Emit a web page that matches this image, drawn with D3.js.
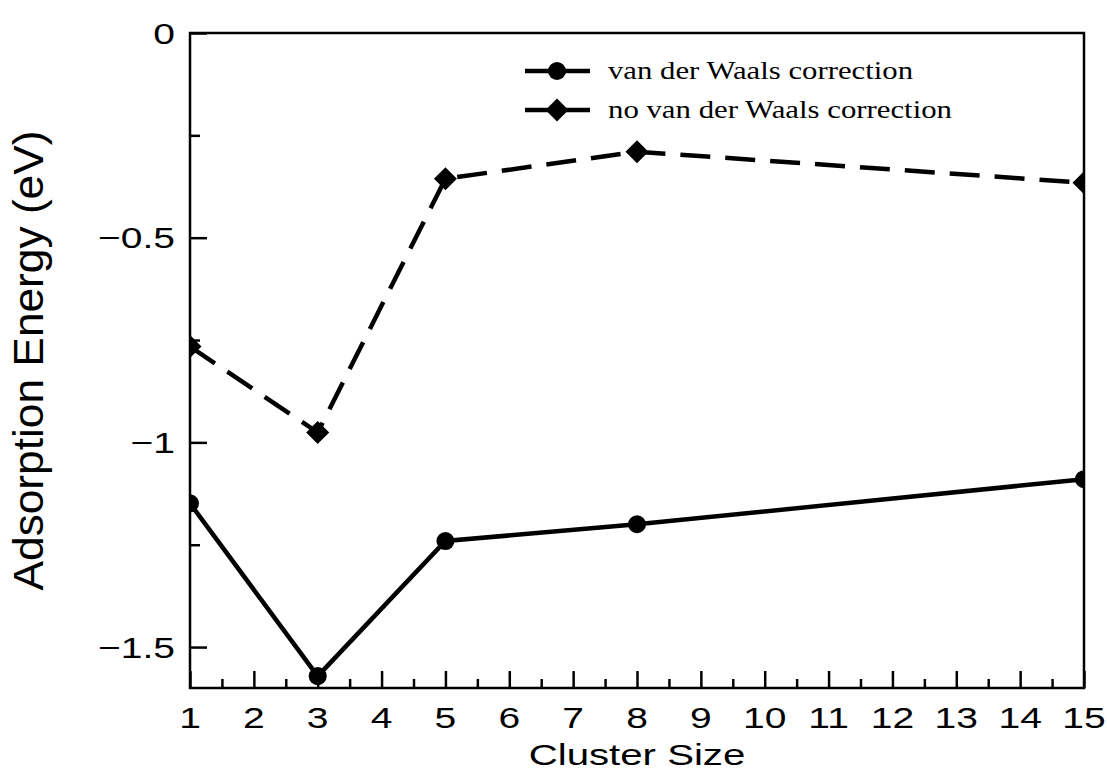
<!DOCTYPE html>
<html>
<head>
<meta charset="utf-8">
<script src="https://cdn.jsdelivr.net/npm/d3@7"></script>
<style>
  body { margin: 0; background: #fff; }
  #app { width: 1107px; height: 775px; }
</style>
</head>
<body>
<div id="app"></div>
<script>
// Cluster sizes and adsorption energies (eV)
const clusterSizes = [1, 3, 5, 8, 15];
const vdwEnergy = [-1.149, -1.571, -1.241, -1.200, -1.090];
const noVdwEnergy = [-0.766, -0.976, -0.356, -0.290, -0.366];
const seriesNames = ["van der Waals correction", "no van der Waals correction"];
const yTicks = [0, -0.5, -1, -1.5];
const yMinorTicks = [-0.25, -0.75, -1.25];
const xTicks = d3.range(1, 16);
const xMinorTicks = d3.range(1.5, 15, 1);

function drawPlot(targetDiv) {
  const width = 1107, height = 775;
  const margin = {top: 33, bottom: 87, left: 190, right: 23};

  const svg = d3.select(targetDiv).append("svg")
    .attr("width", width)
    .attr("height", height);

  const x = d3.scaleLinear().domain([1, 15]).range([margin.left, width - margin.right]);
  const y = d3.scaleLinear().domain([-1.6, 0]).range([height - margin.bottom, margin.top]);

  const sans = "'Liberation Sans', Arial, Helvetica, sans-serif";
  const serif = "'Liberation Serif', 'Times New Roman', serif";
  const stretch = 1.3; // the original lettering is wide

  // clip so markers sitting on the frame get cut
  svg.append("clipPath").attr("id", "plotClip")
    .append("rect")
    .attr("x", x(1)).attr("y", y(0))
    .attr("width", x(15) - x(1)).attr("height", y(-1.6) - y(0));

  const diamond = {
    draw(ctx, size) {
      const r = Math.sqrt(size / 2);
      ctx.moveTo(0, -r); ctx.lineTo(r, 0); ctx.lineTo(0, r); ctx.lineTo(-r, 0); ctx.closePath();
    }
  };

  const series = [
    {name: seriesNames[0], values: vdwEnergy, dash: null, shape: d3.symbolCircle, size: 255, len: 305},
    {name: seriesNames[1], values: noVdwEnergy, dash: "30,15", shape: diamond, size: 265, len: 344}
  ];

  const line = d3.line().x(d => x(d[0])).y(d => y(d[1]));
  const plot = svg.append("g").attr("clip-path", "url(#plotClip)");

  series.forEach(s => {
    const pts = clusterSizes.map((c, i) => [c, s.values[i]]);
    plot.append("path")
      .datum(pts)
      .attr("d", line)
      .attr("fill", "none")
      .attr("stroke", "#000")
      .attr("stroke-width", 4.5)
      .attr("stroke-dasharray", s.dash);
    plot.selectAll(null)
      .data(pts)
      .join("path")
      .attr("transform", d => `translate(${x(d[0])},${y(d[1])})`)
      .attr("d", d3.symbol(s.shape, s.size))
      .attr("fill", "#000");
  });

  // Frame
  svg.append("rect")
    .attr("x", x(1)).attr("y", y(0))
    .attr("width", x(15) - x(1)).attr("height", y(-1.6) - y(0))
    .attr("fill", "none").attr("stroke", "#000").attr("stroke-width", 2.5);

  // Y axis (ticks point inward)
  const yAxis = svg.append("g").attr("transform", `translate(${x(1)},0)`);
  yAxis.call(d3.axisRight(y).tickValues(yTicks).tickSize(17).tickFormat(""))
    .call(g => g.select(".domain").remove())
    .call(g => g.selectAll("line").attr("stroke-width", 2.5));
  yAxis.append("g")
    .call(d3.axisRight(y).tickValues(yMinorTicks).tickSize(10).tickFormat(""))
    .call(g => g.select(".domain").remove())
    .call(g => g.selectAll("line").attr("stroke-width", 2.5));
  svg.append("g").selectAll("text")
    .data(yTicks)
    .join("text")
    .attr("transform", d => `translate(${x(1) - 15},${y(d)}) scale(${stretch},1)`)
    .attr("dy", "0.36em")
    .attr("text-anchor", "end")
    .style("font-family", sans).style("font-size", "30px")
    .text(d => d === 0 ? "0" : d3.format("")(d).replace("-", "\u2212"));

  // X axis (ticks point inward)
  const xAxis = svg.append("g").attr("transform", `translate(0,${y(-1.6)})`);
  xAxis.call(d3.axisTop(x).tickValues(xTicks).tickSize(17).tickFormat(""))
    .call(g => g.select(".domain").remove())
    .call(g => g.selectAll("line").attr("stroke-width", 2.5));
  xAxis.append("g")
    .call(d3.axisTop(x).tickValues(xMinorTicks).tickSize(9).tickFormat(""))
    .call(g => g.select(".domain").remove())
    .call(g => g.selectAll("line").attr("stroke-width", 2.5));
  svg.append("g").selectAll("text")
    .data(xTicks)
    .join("text")
    .attr("transform", d => `translate(${x(d)},${y(-1.6) + 40}) scale(${stretch},1)`)
    .attr("text-anchor", "middle")
    .style("font-family", sans).style("font-size", "30px")
    .text(d => d);

  // Axis titles
  svg.append("text")
    .attr("transform", `translate(${(x(1) + x(15)) / 2},765) scale(1.34,1)`)
    .attr("text-anchor", "middle")
    .style("font-family", sans).style("font-size", "30px")
    .text("Cluster Size");
  svg.append("text")
    .attr("transform", `translate(43,${(y(0) + y(-1.6)) / 2}) rotate(-90)`)
    .attr("text-anchor", "middle")
    .attr("textLength", 460)
    .attr("lengthAdjust", "spacingAndGlyphs")
    .style("font-family", sans).style("font-size", "42px")
    .text("Adsorption Energy (eV)");

  // Legend
  const legend = svg.append("g").attr("transform", "translate(525,71)");
  series.forEach((s, i) => {
    const row = legend.append("g").attr("transform", `translate(0,${i * 39})`);
    row.append("line")
      .attr("x1", 0).attr("x2", 65)
      .attr("stroke", "#000").attr("stroke-width", 4.5);
    row.append("path")
      .attr("transform", "translate(32,0)")
      .attr("d", d3.symbol(s.shape, s.size))
      .attr("fill", "#000");
    row.append("text")
      .attr("x", 83)
      .attr("dy", "0.33em")
      .attr("textLength", s.len)
      .attr("lengthAdjust", "spacingAndGlyphs")
      .style("font-family", serif).style("font-size", "25px")
      .text(s.name);
  });
}

function main() {
  drawPlot("#app");
}

document.addEventListener("DOMContentLoaded", main);
</script>
</body>
</html>
